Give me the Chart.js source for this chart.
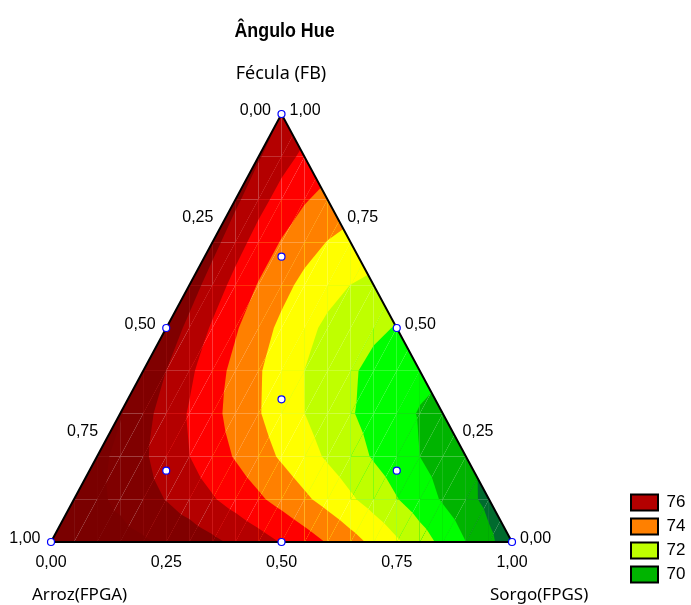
<!DOCTYPE html>
<html>
<head>
<meta charset="utf-8">
<title>Ângulo Hue</title>
<script src="https://cdn.jsdelivr.net/npm/chart.js@4.4.1/dist/chart.umd.min.js"></script>
<style>
  html, body { margin: 0; padding: 0; background: #ffffff; }
  #wrap { width: 691px; height: 605px; }
</style>
</head>
<body>
<div id="wrap"><canvas id="c" width="691" height="605"></canvas></div>
<script>
// Mixture design runs (simplex centroid + axial points): component fractions
const arroz  = [1, 0, 0, 1/2, 1/2, 0,   1/3, 2/3, 1/6, 1/6];
const fecula = [0, 1, 0, 1/2, 0,   1/2, 1/3, 1/6, 2/3, 1/6];
const sorgo  = [0, 0, 1, 0,   1/2, 1/2, 1/3, 1/6, 1/6, 2/3];
// Hue angle measured for each run
const hue    = [78.84, 77.00, 69.40, 77.67, 75.95, 71.95, 73.48, 76.65, 74.71, 71.60];

// Contour levels and the fill of each band (lowest band first)
const contourLevels = [70, 71, 72, 73, 74, 75, 76, 77, 78];
const bandColors = ['#006B2E', '#00B400', '#00FF00', '#BFFF00', '#FFFF00',
                    '#FF8000', '#FF0000', '#B40000', '#800000', '#7A0000'];
const legendLevels = [76, 74, 72, 70];

// Axis ticks
const tickValues = [0, 0.25, 0.5, 0.75, 1];
const tickLabels = ['0,00', '0,25', '0,50', '0,75', '1,00'];

const chartTitle = 'Ângulo Hue';
const titleArroz = 'Arroz(FPGA)';
const titleFecula = 'Fécula (FB)';
const titleSorgo = 'Sorgo(FPGS)';

// ---------------------------------------------------------------------------
// Page frame of the simplex (pixels) and surface grid resolution
const FRAME = { left: 51, right: 512, top: 114, bottom: 542 };
const GRID_X = 20, GRID_Y = 10;

const FONT_SANS = '"Liberation Sans", Arial, sans-serif';
const FONT_AXIS = '"Noto Sans", "Open Sans", sans-serif';

// Special cubic Scheffé model: A, B, S, AB, AS, BS, ABS
function modelTerms(a, b, s) { return [a, b, s, a * b, a * s, b * s, a * b * s]; }

function fitModel() {
  const p = 7;
  const M = Array.from({ length: p }, () => new Array(p + 1).fill(0));
  for (let r = 0; r < hue.length; r++) {
    const t = modelTerms(arroz[r], fecula[r], sorgo[r]);
    for (let i = 0; i < p; i++) {
      for (let j = 0; j < p; j++) M[i][j] += t[i] * t[j];
      M[i][p] += t[i] * hue[r];
    }
  }
  for (let c = 0; c < p; c++) {
    let piv = c;
    for (let r = c + 1; r < p; r++) if (Math.abs(M[r][c]) > Math.abs(M[piv][c])) piv = r;
    [M[c], M[piv]] = [M[piv], M[c]];
    for (let r = 0; r < p; r++) {
      if (r === c) continue;
      const f = M[r][c] / M[c][c];
      for (let k = c; k <= p; k++) M[r][k] -= f * M[c][k];
    }
  }
  return M.map((row, i) => row[p] / row[i]);
}
const coef = fitModel();
function predict(a, b, s) {
  const t = modelTerms(a, b, s);
  return t.reduce((acc, v, i) => acc + v * coef[i], 0);
}

// Ternary -> plane: Sorgo runs along the base, Fécula to the apex
function toPlane(a, b, s) { return { x: s + b / 2, y: b }; }
function surfaceAt(x, y) { const b = y, s = x - y / 2, a = 1 - s - b; return predict(a, b, s); }

function bandOf(v) { let k = 0; while (k < contourLevels.length && v >= contourLevels[k]) k++; return k; }

function clipAbove(poly, lv) {
  const out = [];
  for (let k = 0; k < poly.length; k++) {
    const p = poly[k], q = poly[(k + 1) % poly.length];
    const pin = p.v >= lv, qin = q.v >= lv;
    if (pin) out.push(p);
    if (pin !== qin) {
      const f = (lv - p.v) / (q.v - p.v);
      out.push({ x: p.x + f * (q.x - p.x), y: p.y + f * (q.y - p.y), v: lv });
    }
  }
  return out;
}

// Draws the banded response surface, cell by cell, through the chart scales
const surfacePlugin = {
  id: 'mixtureSurface',
  beforeDatasetsDraw(chart) {
    const { ctx, scales: { x: xs, y: ys } } = chart;
    const X = v => xs.getPixelForValue(v), Y = v => ys.getPixelForValue(v);
    const node = (i, j) => { const x = i / GRID_X, y = j / GRID_Y; return { x, y, v: surfaceAt(x, y) }; };
    const fillPoly = (poly, color) => {
      ctx.beginPath();
      poly.forEach((p, k) => k ? ctx.lineTo(X(p.x), Y(p.y)) : ctx.moveTo(X(p.x), Y(p.y)));
      ctx.closePath();
      ctx.fillStyle = color;
      ctx.fill();
    };
    const paintCell = tri => {
      const vmin = Math.min(tri[0].v, tri[1].v, tri[2].v);
      const vmax = Math.max(tri[0].v, tri[1].v, tri[2].v);
      let k = bandOf(vmin);
      fillPoly(tri, bandColors[k]);
      for (; k < contourLevels.length && contourLevels[k] <= vmax; k++) {
        const piece = clipAbove(tri, contourLevels[k]);
        if (piece.length >= 3) fillPoly(piece, bandColors[k + 1]);
      }
    };
    ctx.save();
    const c0 = toPlane(1, 0, 0), c1 = toPlane(0, 0, 1), c2 = toPlane(0, 1, 0);
    ctx.beginPath();
    ctx.moveTo(X(c0.x), Y(c0.y)); ctx.lineTo(X(c1.x), Y(c1.y)); ctx.lineTo(X(c2.x), Y(c2.y));
    ctx.closePath();
    ctx.clip();
    for (let j = 0; j < GRID_Y; j++) {
      for (let i = j; i <= GRID_X - 1 - j; i++) {
        const p00 = node(i, j), p10 = node(i + 1, j), p11 = node(i + 1, j + 1), p01 = node(i, j + 1);
        paintCell([p00, p10, p11]);
        if (i > j) paintCell([p00, p11, p01]);
      }
    }
    ctx.restore();
  },
  afterDatasetsDraw(chart) {
    const { ctx, scales: { x: xs, y: ys } } = chart;
    const X = v => xs.getPixelForValue(v), Y = v => ys.getPixelForValue(v);
    ctx.save();
    ctx.fillStyle = '#000';
    ctx.textBaseline = 'alphabetic';
    ctx.font = '16px ' + FONT_SANS;
    tickValues.forEach((t, k) => {
      // Arroz on the left side
      let p = toPlane(t, 1 - t, 0);
      ctx.textAlign = 'right';
      ctx.fillText(tickLabels[k], X(p.x) - 10.5, Y(p.y) + 1);
      // Fécula on the right side
      p = toPlane(0, t, 1 - t);
      ctx.textAlign = 'left';
      ctx.fillText(tickLabels[k], X(p.x) + 8, Y(p.y) + 1);
      // Sorgo along the base
      p = toPlane(1 - t, 0, t);
      ctx.textAlign = 'center';
      ctx.fillText(tickLabels[k], X(p.x), Y(p.y) + 25);
    });
    const apex = toPlane(0, 1, 0), left = toPlane(1, 0, 0), right = toPlane(0, 0, 1);
    ctx.font = '18px ' + FONT_AXIS;
    ctx.textAlign = 'center';
    ctx.fillText(titleFecula, X(apex.x) - 0.5, Y(apex.y) - 35);
    ctx.font = '17px ' + FONT_AXIS;
    ctx.textAlign = 'left';
    ctx.fillText(titleArroz, X(left.x) - 19, Y(left.y) + 58);
    ctx.fillText(titleSorgo, X(right.x) - 22, Y(right.y) + 58);
    // Condensed bold title
    ctx.save();
    ctx.translate(X(apex.x) + 3, Y(apex.y) - 77);
    ctx.scale(0.85, 1);
    ctx.font = 'bold 21px ' + FONT_SANS;
    ctx.textAlign = 'center';
    ctx.fillText(chartTitle, 0, 0);
    ctx.restore();
    ctx.restore();
  }
};

const runPoints = arroz.map((a, r) => toPlane(a, fecula[r], sorgo[r]));
const outline = [toPlane(1, 0, 0), toPlane(0, 0, 1), toPlane(0, 1, 0), toPlane(1, 0, 0)];

const chart = new Chart(document.getElementById('c'), {
  type: 'scatter',
  data: {
    datasets: [
      {
        label: 'Ensaios',
        data: runPoints,
        order: 0,
        pointRadius: 3.5,
        pointBackgroundColor: '#ffffff',
        pointBorderColor: '#0000FF',
        pointBorderWidth: 1.2,
        clip: false
      },
      {
        label: 'Simplex',
        type: 'line',
        data: outline,
        order: 1,
        borderColor: '#000000',
        borderWidth: 2,
        pointRadius: 0,
        fill: false,
        tension: 0,
        clip: false
      }
    ]
  },
  options: {
    responsive: false,
    animation: false,
    events: [],
    layout: { padding: { top: 0, left: 0, right: 0, bottom: 15 } },
    scales: {
      x: { type: 'linear', display: false, min: 0, max: 1 },
      y: { type: 'linear', display: false, min: 0, max: 1 }
    },
    plugins: {
      tooltip: { enabled: false },
      title: { display: false },
      legend: {
        display: true,
        position: 'right',
        align: 'end',
        maxWidth: 67,
        onClick: () => {},
        labels: {
          boxWidth: 27,
          boxHeight: 16,
          padding: 7,
          color: '#000',
          font: { family: FONT_SANS, size: 17 },
          generateLabels: () => legendLevels.map(lv => ({
            text: String(lv),
            fillStyle: bandColors[bandOf(lv)],
            strokeStyle: '#000000',
            fontColor: '#000000',
            lineWidth: 2,
            hidden: false
          }))
        }
      }
    }
  },
  plugins: [surfacePlugin]
});

// Set the value ranges so the simplex sits in its frame inside the plot area
(function placeSimplex() {
  const a = chart.chartArea;
  const ux = FRAME.right - FRAME.left, uy = FRAME.bottom - FRAME.top;
  chart.options.scales.x.min = (a.left - FRAME.left) / ux;
  chart.options.scales.x.max = (a.right - FRAME.left) / ux;
  chart.options.scales.y.min = (FRAME.bottom - a.bottom) / uy;
  chart.options.scales.y.max = (FRAME.bottom - a.top) / uy;
  chart.update('none');
})();
</script>
</body>
</html>
